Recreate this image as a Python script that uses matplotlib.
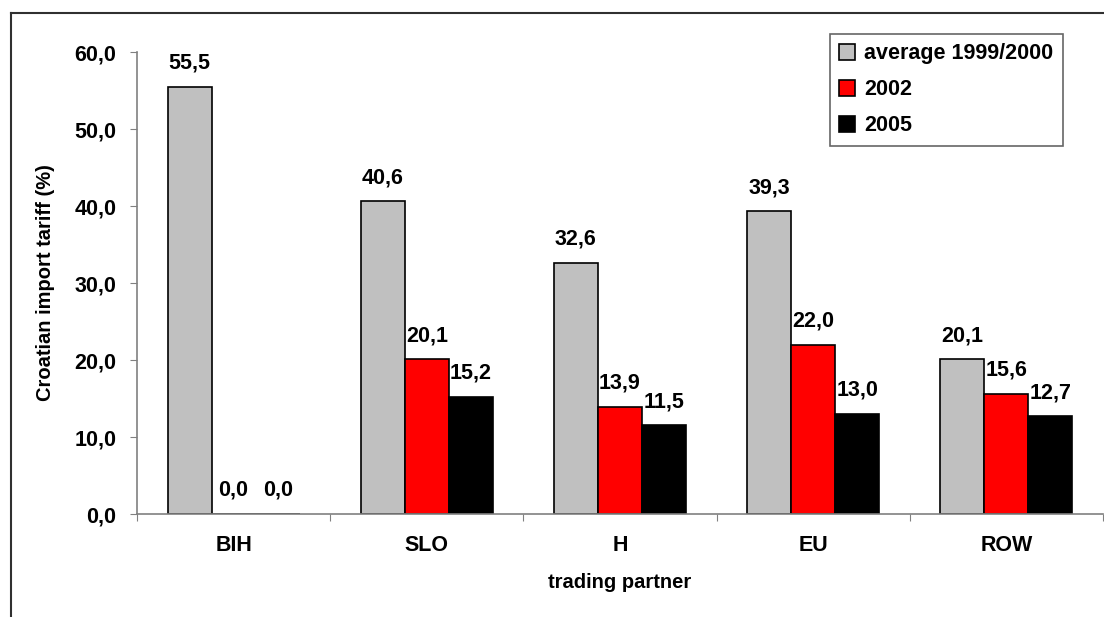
import matplotlib
matplotlib.use("Agg")
import matplotlib.pyplot as plt
from matplotlib.lines import Line2D
import numpy as np

plt.rcParams['font.family'] = ['Liberation Sans', 'DejaVu Sans']
plt.rcParams['font.weight'] = 'bold'

partners = ["BIH", "SLO", "H", "EU", "ROW"]
avg_9900 = [55.5, 40.6, 32.6, 39.3, 20.1]
y2002 = [0.0, 20.1, 13.9, 22.0, 15.6]
y2005 = [0.0, 15.2, 11.5, 13.0, 12.7]
series_names = ["average 1999/2000", "2002", "2005"]
colors = ["#c0c0c0", "#ff0000", "#000000"]

FS = 15.5

fig = plt.figure(figsize=(11.04, 6.17), dpi=100)
ax = fig.add_axes([0.1241, 0.1669, 0.8749, 0.7488])

x = np.arange(len(partners))
w = 0.228
series = [avg_9900, y2002, y2005]
for i, (vals, name, c) in enumerate(zip(series, series_names, colors)):
    pos = x + (i - 1) * w
    bars = ax.bar(pos, vals, w, color=c, edgecolor="black", linewidth=1.2, label=name)
    for p, v in zip(pos, vals):
        ax.annotate(("%.1f" % v).replace(".", ","), (p, v), xytext=(0, 13),
                    textcoords="offset points", ha="center", va="baseline",
                    fontsize=FS, fontweight="bold")

ax.set_xlim(-0.5, len(partners) - 0.5)
ax.set_ylim(0, 60)
ax.set_yticks(np.arange(0, 61, 10))
ax.set_yticklabels([("%.1f" % t).replace(".", ",") for t in np.arange(0, 61, 10)])
ax.set_xticks(np.arange(len(partners) + 1) - 0.5, minor=False)
ax.set_xticklabels([])
ax.set_xticks(x, minor=True)
ax.set_xticklabels(partners, minor=True)
ax.tick_params(axis="x", which="minor", length=0, pad=15, labelsize=FS)
ax.tick_params(axis="x", which="major", length=5, color="#808080", direction="out")
ax.tick_params(axis="y", length=5, color="#808080", labelsize=FS, pad=10)
for s in ["top", "right"]:
    ax.spines[s].set_visible(False)
for s in ["left", "bottom"]:
    ax.spines[s].set_color("#808080")
    ax.spines[s].set_linewidth(1.2)

ax.set_xlabel("trading partner", fontsize=14.5, fontweight="bold", labelpad=12)
ax.set_ylabel("Croatian import tariff (%)", fontsize=14.5, fontweight="bold", labelpad=14)

leg = ax.legend(loc="upper right", bbox_to_anchor=(0.9586, 1.04), fontsize=FS,
                frameon=True, fancybox=False, handlelength=0.75, handleheight=0.75,
                handletextpad=0.4, borderpad=0.45, labelspacing=0.7, borderaxespad=0)
leg.get_frame().set_edgecolor("#404040")
leg.get_frame().set_linewidth(1.2)

# outer chart frame (cropped on right/bottom)
fig.add_artist(Line2D([11 / 1104, 11 / 1104], [0, 1 - 13 / 617], transform=fig.transFigure,
                      color="#303030", linewidth=1.5))
fig.add_artist(Line2D([11 / 1104, 1], [1 - 13 / 617, 1 - 13 / 617], transform=fig.transFigure,
                      color="#303030", linewidth=1.5))

fig.savefig("out.png", dpi=100)
